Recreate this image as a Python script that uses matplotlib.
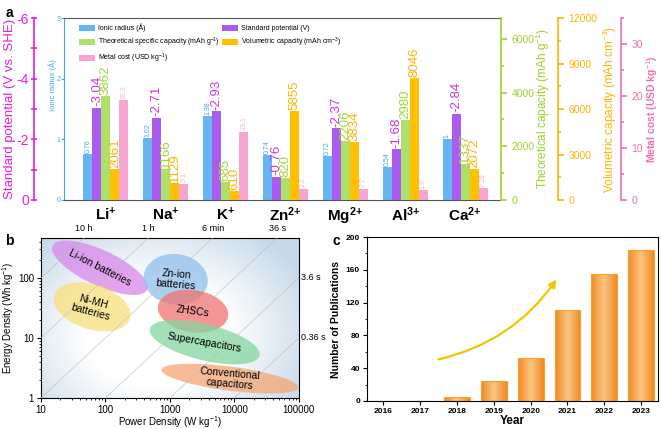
import numpy as np
import matplotlib
matplotlib.use("Agg")
import matplotlib.pyplot as plt
from matplotlib.patches import Polygon, FancyArrowPatch
from matplotlib.colors import LinearSegmentedColormap
from matplotlib.ticker import MultipleLocator, FixedLocator

plt.rcParams['font.family'] = ['Liberation Sans', 'DejaVu Sans']
plt.rcParams['mathtext.fontset'] = 'custom'
plt.rcParams['mathtext.rm'] = 'Liberation Sans'
plt.rcParams['mathtext.it'] = 'Liberation Sans:italic'
plt.rcParams['mathtext.bf'] = 'Liberation Sans:bold'
plt.rcParams['axes.unicode_minus'] = False

# ---- panel a data
ions = [r'$\mathbf{Li^{{+}}}$', r'$\mathbf{Na^{{+}}}$', r'$\mathbf{K^{{+}}}$', r'$\mathbf{Zn^{2{+}}}$',
        r'$\mathbf{Mg^{2{+}}}$', r'$\mathbf{Al^{3{+}}}$', r'$\mathbf{Ca^{2{+}}}$']
ionic_radius = [0.76, 1.02, 1.38, 0.74, 0.72, 0.54, 1.0]
radius_text = ['0.76', '1.02', '1.38', '0.74', '0.72', '0.54', '1']
std_potential = [-3.04, -2.71, -2.93, -0.76, -2.37, -1.68, -2.84]
spec_capacity = [3862, 1166, 685, 820, 2206, 2980, 1337]
vol_capacity = [2061, 1129, 610, 5855, 3834, 8046, 2072]
metal_cost = [19.2, 3.1, 13.1, 2.2, 2.2, 1.9, 2.28]
cost_text = ['19.2', '3.1', '13.1', '2.2', '2.2', '1.9', '2.28']

# ---- panel b data
devices = ['Li-ion batteries', 'Ni-MH\nbatteries', 'Zn-ion\nbatteries', 'ZHSCs',
           'Supercapacitors', 'Conventional\ncapacitors']
dev_power = [82, 62, 1230, 2290, 3470, 8500]      # W/kg, ellipse centre
dev_energy = [148, 33, 95, 28, 8.5, 2.1]          # Wh/kg, ellipse centre
dev_major = [0.82, 0.62, 0.50, 0.55, 0.88, 1.07]  # decades
dev_minor = [0.29, 0.37, 0.42, 0.35, 0.30, 0.20]
dev_angle = [-27, -20, -10, -10, -15, -8]
dev_colors = ['#DA86EA', '#F8E07A', '#8EC0EC', '#F27272', '#82D6A0', '#F5A572']
dev_text_rot = [-27, -15, -5, -8, -10, -5]
time_hours = [10, 1, 0.1, 0.01, 0.001, 0.0001]
time_top = ['10 h', '1 h', '6 min', '36 s']
time_right = ['3.6 s', '0.36 s']

# ---- panel c data
years = [2016, 2017, 2018, 2019, 2020, 2021, 2022, 2023]
publications = [0, 0, 5, 25, 53, 111, 155, 184]

fig = plt.figure(figsize=(6.61, 4.29), dpi=100)

# ================= panel a
c_blue, c_purple, c_green, c_orange, c_pink = '#66B5F0', '#AA5CF0', '#AEE06A', '#FFC000', '#F6A4D2'
t_blue, t_purple, t_green, t_orange, t_pink = '#3DA5EE', '#CC33EE', '#9ED838', '#FFB400', '#F4B4D6'
ax = fig.add_axes([0.0968, 0.5338, 0.6611, 0.4242])
x = np.arange(len(ions))
w = 0.15

ax_pot = ax.twinx()
ax_spec = ax.twinx()
ax_vol = ax.twinx()
ax_cost = ax.twinx()

b1 = ax.bar(x - 2 * w, ionic_radius, w, color=c_blue)
b2 = ax_pot.bar(x - w, std_potential, w, color=c_purple)
b3 = ax_spec.bar(x, spec_capacity, w, color=c_green)
b4 = ax_vol.bar(x + w, vol_capacity, w, color=c_orange)
b5 = ax_cost.bar(x + 2 * w, metal_cost, w, color=c_pink)

ax.set_xlim(-0.70, 6.60)
ax.set_ylim(0, 3)
ax_pot.set_ylim(0, -6)
ax_spec.set_ylim(0, 6780)
ax_vol.set_ylim(0, 12000)
ax_cost.set_ylim(0, 35)

for xi, v, s in zip(x, ionic_radius, radius_text):
    ax.text(xi - 2 * w, v + 0.02, s, rotation=90, ha='center', va='bottom', fontsize=5, color=t_blue)
for xi, v in zip(x, std_potential):
    ax_pot.text(xi - w, v - 0.05, '%.2f' % v, rotation=90, ha='center', va='bottom', fontsize=9.5, color=t_purple)
for xi, v in zip(x, spec_capacity):
    ax_spec.text(xi, v + 40, str(v), rotation=90, ha='center', va='bottom', fontsize=9.5, color=t_green)
for xi, v in zip(x, vol_capacity):
    ax_vol.text(xi + w, v + 60, str(v), rotation=90, ha='center', va='bottom', fontsize=9.5, color=t_orange)
for xi, v, s in zip(x, metal_cost, cost_text):
    ax_cost.text(xi + 2 * w, v + 0.3, s, rotation=90, ha='center', va='bottom', fontsize=5, color=t_pink)

# main axis: ionic radius
ax.set_xticks(x)
ax.set_xticklabels(ions, fontsize=11)
ax.tick_params(axis='x', length=0, pad=4)
ax.spines['left'].set_color(t_blue)
ax.spines['right'].set_visible(False)
ax.spines['top'].set_color('#555555')
ax.spines['bottom'].set_color('#555555')
ax.yaxis.set_major_locator(MultipleLocator(1))
ax.tick_params(axis='y', colors=t_blue, labelsize=5, length=2, pad=0.5)
ax.set_ylabel('Ionic radius (Å)', fontsize=5.5, color=t_blue)
ax.yaxis.set_label_coords(-0.016, 0.63)

for a in (ax_pot, ax_spec, ax_vol, ax_cost):
    for sp in a.spines.values():
        sp.set_visible(False)

# standard potential axis (left, outside)
ax_pot.spines['left'].set_visible(True)
ax_pot.spines['left'].set_position(('axes', -0.069))
ax_pot.spines['left'].set_color('#E020E0')
ax_pot.spines['left'].set_linewidth(1.2)
ax_pot.yaxis.set_ticks_position('left')
ax_pot.yaxis.set_label_position('left')
ax_pot.set_yticks([0, -2, -4, -6])
ax_pot.yaxis.set_minor_locator(FixedLocator([-1, -3, -5]))
ax_pot.tick_params(axis='y', which='major', colors='#E020E0', labelsize=10, length=5, width=1.2,
                   direction='inout', pad=1)
ax_pot.tick_params(axis='y', which='minor', colors='#E020E0', length=4, width=1.2, direction='inout')
ax_pot.set_ylabel('Standard potential (V vs. SHE)', fontsize=9.5, color='#E020E0')
ax_pot.yaxis.set_label_coords(-0.110, 0.5)

# theoretical capacity axis (right spine)
ax_spec.spines['right'].set_visible(True)
ax_spec.spines['right'].set_color('#99D52A')
ax_spec.spines['right'].set_linewidth(1.2)
ax_spec.set_yticks([0, 2000, 4000, 6000])
ax_spec.yaxis.set_minor_locator(MultipleLocator(1000))
ax_spec.tick_params(axis='y', which='both', colors='#99D52A', labelsize=7.5, width=1.2)
ax_spec.tick_params(axis='y', which='major', length=4)
ax_spec.tick_params(axis='y', which='minor', length=2.5)
ax_spec.set_ylabel(r'Theoretical capacity (mAh g$^{-1}$)', fontsize=8.5, color='#99D52A')
ax_spec.yaxis.set_label_coords(1.076, 0.5)

# volumetric capacity axis
ax_vol.spines['right'].set_visible(True)
ax_vol.spines['right'].set_position(('axes', 1.130))
ax_vol.spines['right'].set_color('#FFB400')
ax_vol.spines['right'].set_linewidth(1.2)
ax_vol.set_yticks([0, 3000, 6000, 9000, 12000])
ax_vol.yaxis.set_minor_locator(MultipleLocator(1500))
ax_vol.tick_params(axis='y', which='both', colors='#FFB400', labelsize=7.5, width=1.2)
ax_vol.tick_params(axis='y', which='major', length=4)
ax_vol.tick_params(axis='y', which='minor', length=2.5)
ax_vol.set_ylabel(r'Volumetric capacity (mAh cm$^{-3}$)', fontsize=8.5, color='#FFB400')
ax_vol.yaxis.set_label_coords(1.228, 0.5)

# metal cost axis
ax_cost.spines['right'].set_visible(True)
ax_cost.spines['right'].set_position(('axes', 1.275))
ax_cost.spines['right'].set_color('#F06EB4')
ax_cost.spines['right'].set_linewidth(1.2)
ax_cost.set_yticks([0, 10, 20, 30])
ax_cost.yaxis.set_minor_locator(MultipleLocator(5))
ax_cost.tick_params(axis='y', which='both', colors='#F06EB4', labelsize=7.5, width=1.2)
ax_cost.tick_params(axis='y', which='major', length=4)
ax_cost.tick_params(axis='y', which='minor', length=2.5)
ax_cost.set_ylabel(r'Metal cost (USD kg$^{-1}$)', fontsize=7.5, color='#F06EB4', fontweight='bold')
ax_cost.yaxis.set_label_coords(1.328, 0.5)

handles = [b1, b3, b5, b2, b4]
labels = ['Ionic radius (Å)', r'Theoretical specific capacity (mAh g$^{-1}$)', r'Metal cost (USD kg$^{-1}$)',
          'Standard potential (V)', r'Volumetric capacity (mAh cm$^{-3}$)']
ax_cost.legend(handles, labels, ncol=2, loc='upper left', bbox_to_anchor=(0.022, 1.0), frameon=False,
               fontsize=5.0, handlelength=2.3, handleheight=0.9, labelspacing=0.45, columnspacing=0.3,
               handletextpad=0.4, borderpad=0.3)

fig.text(0.008, 0.985, 'a', fontsize=10, fontweight='bold', va='top')

# ================= panel b
pos_b = [0.062, 0.0723, 0.390, 0.373]
bg = fig.add_axes(pos_b, zorder=0)
gx, gy = np.meshgrid(np.linspace(0, 1, 200), np.linspace(0, 1, 200))
r = np.sqrt(((gx - 0.45) / 0.62) ** 2 + ((gy - 0.4) / 0.75) ** 2)
r = np.clip((r - 0.45) / 0.6, 0, 1)
bg_cmap = LinearSegmentedColormap.from_list('bgc', ['#FFFFFF', '#C6D9E8'])
bg.imshow(r, cmap=bg_cmap, extent=[0, 1, 0, 1], origin='lower', aspect='auto')
bg.axis('off')

axb = fig.add_axes(pos_b, zorder=1)
axb.patch.set_alpha(0)
axb.set_xscale('log')
axb.set_yscale('log')
e_top = 464
axb.set_xlim(10, 1e5)
axb.set_ylim(1, e_top)

for (p, e, a_, b_, ang, col) in zip(dev_power, dev_energy, dev_major, dev_minor, dev_angle, dev_colors):
    t = np.linspace(0, 2 * np.pi, 200)
    th = np.deg2rad(ang)
    lx = np.log10(p) + a_ * np.cos(t) * np.cos(th) - b_ * np.sin(t) * np.sin(th)
    ly = np.log10(e) + a_ * np.cos(t) * np.sin(th) + b_ * np.sin(t) * np.cos(th)
    axb.add_patch(Polygon(np.column_stack([10 ** lx, 10 ** ly]), closed=True, facecolor=col,
                          edgecolor='none', alpha=0.75, zorder=2))

pp = np.logspace(0, 6, 50)
for th_ in time_hours:
    axb.plot(pp, pp * th_, color='#BBBBBB', lw=0.5, zorder=3, alpha=0.8)

for name, p, e, rot in zip(devices, dev_power, dev_energy, dev_text_rot):
    axb.text(p, e, name, fontsize=7.5, ha='center', va='center', rotation=rot, zorder=4,
             linespacing=1.1, rotation_mode='anchor')

for lab, th_ in zip(time_top, time_hours[:4]):
    axb.text(e_top / th_, 1.03, lab, transform=axb.get_xaxis_transform(), ha='center', va='bottom', fontsize=6.5)
for lab, th_ in zip(time_right, time_hours[4:]):
    axb.text(1.01, 1e5 * th_, lab, transform=axb.get_yaxis_transform(), ha='left', va='center', fontsize=6.5)

axb.set_xticks([10, 100, 1000, 10000, 100000])
axb.set_xticklabels(['10', '100', '1000', '10000', '100000'])
axb.set_yticks([1, 10, 100])
axb.set_yticklabels(['1', '10', '100'])
axb.tick_params(labelsize=7, length=3, pad=2)
axb.tick_params(which='minor', length=1.5)
axb.set_xlabel(r'Power Density (W kg$^{-1}$)', fontsize=7)
axb.xaxis.set_label_coords(0.5, -0.10)
axb.set_ylabel(r'Energy Density (Wh kg$^{-1}$)', fontsize=7)
axb.yaxis.set_label_coords(-0.095, 0.5)
fig.text(0.008, 0.455, 'b', fontsize=10, fontweight='bold', va='top')

# ================= panel c
axc = fig.add_axes([0.555, 0.0653, 0.440, 0.382])
bars = axc.bar(years, publications, 0.7, facecolor='none', edgecolor='#FFA020', lw=0.8, zorder=3)
bar_cmap = LinearSegmentedColormap.from_list('barc', ['#F08A24', '#FBC584', '#F08A24'])
for rect in bars:
    h = rect.get_height()
    if h <= 0:
        continue
    x0 = rect.get_x()
    im = axc.imshow(np.linspace(0, 1, 64).reshape(1, -1), cmap=bar_cmap, aspect='auto',
                    extent=[x0, x0 + rect.get_width(), 0, h], zorder=2)
    im.set_clip_path(rect)
axc.set_xlim(2015.55, 2023.45)
axc.set_ylim(0, 200)
axc.set_xticks(years)
axc.set_yticks([0, 40, 80, 120, 160, 200])
axc.yaxis.set_minor_locator(MultipleLocator(20))
axc.tick_params(labelsize=6, length=3, pad=2)
axc.tick_params(which='minor', length=1.5)
for lab in axc.get_xticklabels() + axc.get_yticklabels():
    lab.set_fontweight('bold')
axc.set_xlabel('Year', fontsize=8.5, fontweight='bold', labelpad=0)
axc.set_ylabel('Number of Publications', fontsize=7.5, fontweight='bold', labelpad=3)
axc.add_patch(FancyArrowPatch((2017.42, 50), (2020.74, 151), connectionstyle='arc3,rad=0.2',
                              arrowstyle='-|>', mutation_scale=11, color='#F5C400', lw=1.6, zorder=5))
fig.text(0.503, 0.455, 'c', fontsize=10, fontweight='bold', va='top')

fig.savefig('out.png', dpi=100)
